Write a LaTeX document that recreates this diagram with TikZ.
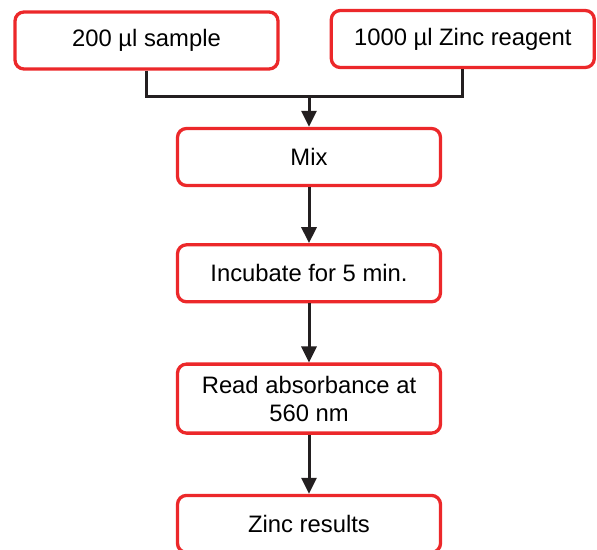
\documentclass[tikz,border=0pt]{standalone}
\usepackage{fontspec}
\setmainfont{Liberation Sans}
\usepackage{xcolor}
\usepackage{tikz}
\usetikzlibrary{arrows.meta, positioning}

\definecolor{boxred}{RGB}{236,40,42}
\definecolor{linedark}{RGB}{35,31,32}

\begin{document}
\begin{tikzpicture}[x=1pt, y=1pt,
    stepbox/.style={rectangle, draw=boxred, line width=3.3pt, fill=white, minimum width=263pt, minimum height=57pt, text centered, rounded corners=9pt, font=\fontsize{23.8pt}{28pt}\selectfont},
    link/.style={line width=3pt, draw=linedark},
    arrow/.style={link, -{Triangle[length=16pt, width=15pt]}}]
    \useasboundingbox (0,0) rectangle (597,-549);

    \node [stepbox] (sample) at (146.5,-40.5) {200 µl sample};
    \node [stepbox, right=50pt of sample, yshift=1.5pt] (reagent) {1000 µl Zinc reagent};
    \node [stepbox] (mix) at (309,-157) {Mix};
    \node [stepbox, below=56pt of mix] (incubate) {Incubate for 5 min.};
    \node [stepbox, below=59pt of incubate, minimum height=69pt, align=center] (read) {Read absorbance at\\560 nm};
    \node [stepbox, below=59pt of read] (zinc) {Zinc results};
    \coordinate [above=30pt of mix] (join);

    \draw [link] (sample.south) |- (join) -| (reagent.south);
    \draw [arrow] (join) -- (mix.north);
    \draw [arrow] (mix) -- (incubate);
    \draw [arrow] (incubate) -- (read);
    \draw [arrow] (read) -- (zinc);
\end{tikzpicture}
\end{document}
